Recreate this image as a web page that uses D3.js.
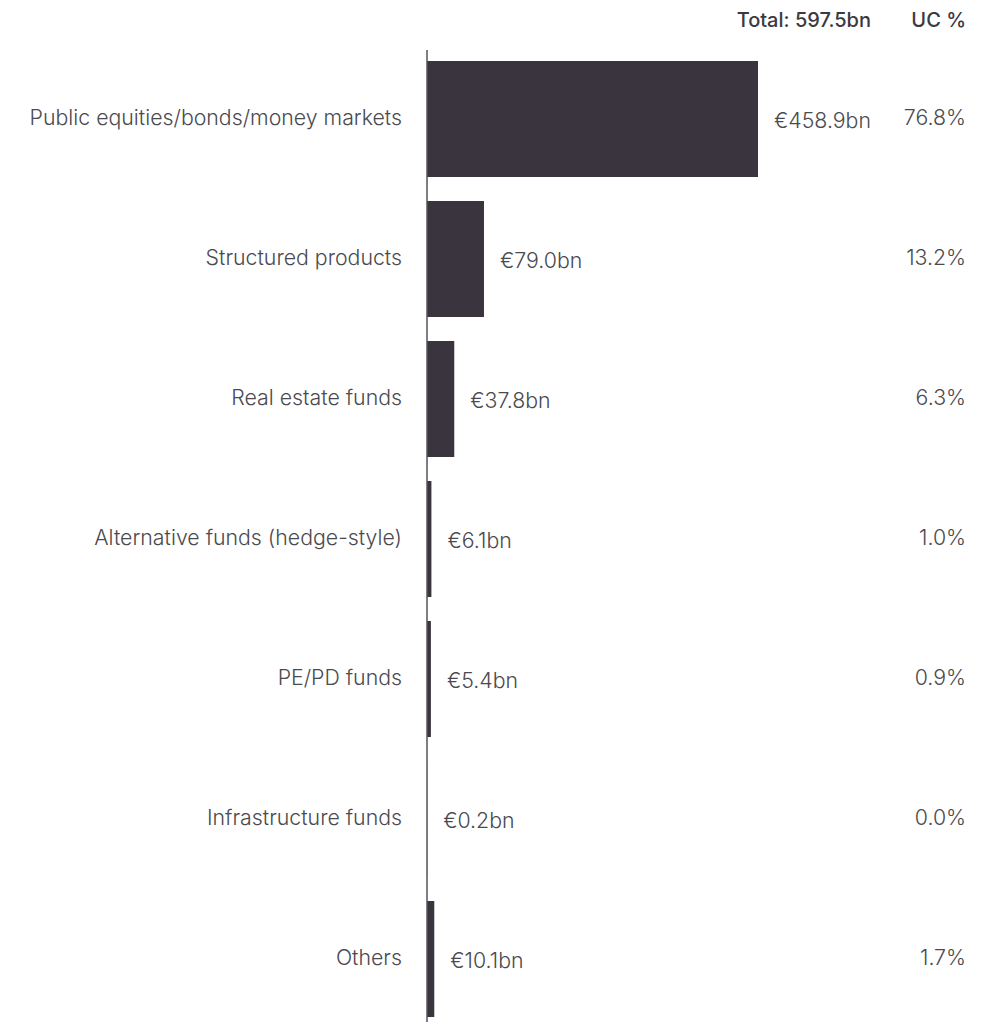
<!DOCTYPE html>
<html>
<head>
<meta charset="utf-8">
<script src="https://cdn.jsdelivr.net/npm/d3@7"></script>
<style>
  html, body { margin: 0; padding: 0; background: #fff; }
  svg { display: block; font-family: Inter, "Noto Sans", sans-serif; }
</style>
</head>
<body>
<svg id="chart" width="991" height="1024"></svg>
<script>
// Unit-linked assets by type (EUR bn) and share of the total
const categories = [
  "Public equities/bonds/money markets",
  "Structured products",
  "Real estate funds",
  "Alternative funds (hedge-style)",
  "PE/PD funds",
  "Infrastructure funds",
  "Others"
];
const values = [458.9, 79.0, 37.8, 6.1, 5.4, 0.2, 10.1];
const shares = [76.8, 13.2, 6.3, 1.0, 0.9, 0.0, 1.7];
const totalLabel = "Total: 597.5bn";
const shareHeader = "UC %";

const svg = d3.select("#chart");
const barColor = "#39343d";
const textColor = "#4a4a4f";
const fontSize = 21.3;

const x0 = 427;
const x = d3.scaleLinear().domain([0, 458.9]).range([x0, 758]);
const y = d3.scaleBand().domain(categories).range([49, 1029]).paddingInner(24 / 140).paddingOuter(24 / 280);

// bars
svg.append("g").selectAll("rect")
  .data(categories)
  .join("rect")
  .attr("x", x0)
  .attr("y", d => y(d))
  .attr("width", (d, i) => x(values[i]) - x0)
  .attr("height", y.bandwidth())
  .attr("fill", barColor);

// vertical baseline
svg.append("line")
  .attr("x1", x0).attr("x2", x0)
  .attr("y1", 50).attr("y2", 1022)
  .attr("stroke", "#555")
  .attr("stroke-width", 1.5);

// category labels
svg.append("g").selectAll("text")
  .data(categories)
  .join("text")
  .attr("x", 402)
  .attr("y", d => y(d) + y.bandwidth() / 2)
  .attr("dy", "0.3em")
  .attr("text-anchor", "end")
  .attr("font-size", fontSize)
  .attr("font-weight", 300)
  .attr("fill", textColor)
  .text(d => d);

// value labels
svg.append("g").selectAll("text")
  .data(categories)
  .join("text")
  .attr("x", (d, i) => x(values[i]) + 16)
  .attr("y", d => y(d) + y.bandwidth() / 2)
  .attr("dy", "0.4em")
  .attr("font-size", fontSize)
  .attr("font-weight", 300)
  .attr("fill", textColor)
  .text((d, i) => "€" + values[i].toFixed(1) + "bn");

// share labels
svg.append("g").selectAll("text")
  .data(categories)
  .join("text")
  .attr("x", 966)
  .attr("y", d => y(d) + y.bandwidth() / 2)
  .attr("dy", "0.3em")
  .attr("text-anchor", "end")
  .attr("font-size", fontSize)
  .attr("font-weight", 300)
  .attr("fill", textColor)
  .text((d, i) => shares[i].toFixed(1) + "%");

// header
svg.append("text")
  .attr("x", 871).attr("y", 27)
  .attr("text-anchor", "end")
  .attr("font-size", 20)
  .attr("font-weight", 500)
  .attr("fill", "#3a3a40")
  .text(totalLabel);
svg.append("text")
  .attr("x", 966).attr("y", 27)
  .attr("text-anchor", "end")
  .attr("font-size", 20)
  .attr("font-weight", 500)
  .attr("fill", "#3a3a40")
  .text(shareHeader);
</script>
</body>
</html>
